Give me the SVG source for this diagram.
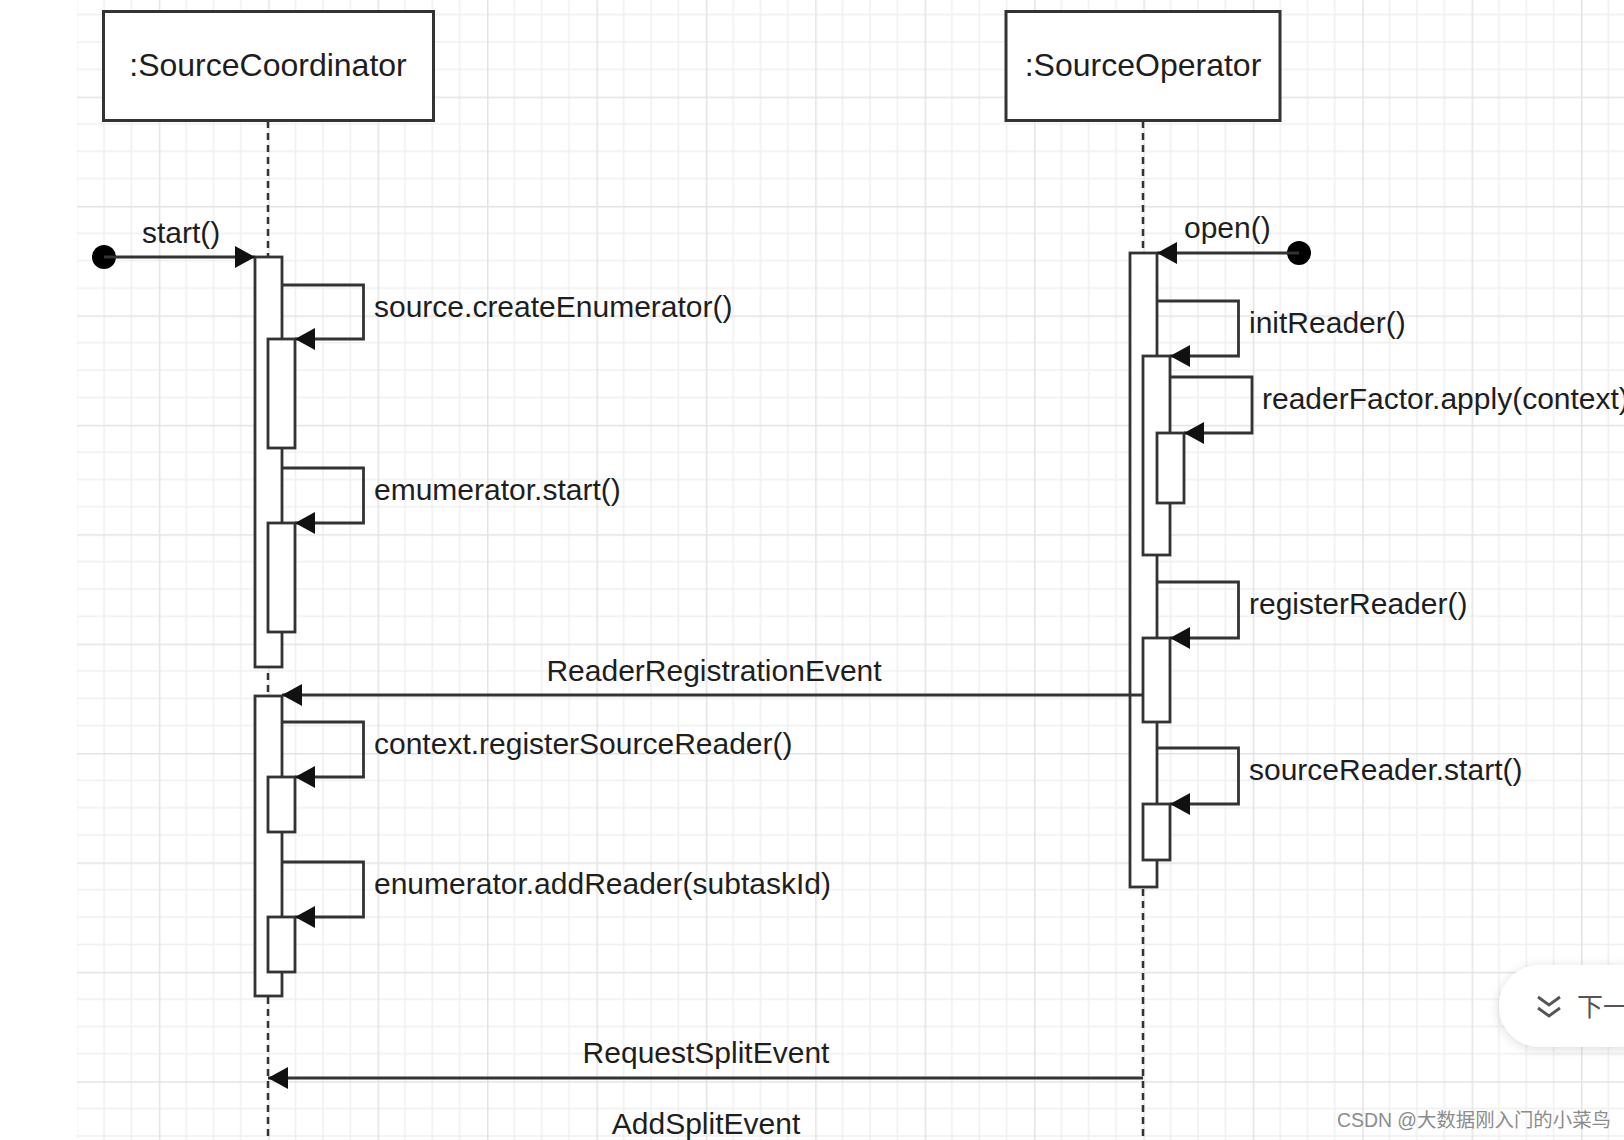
<svg xmlns="http://www.w3.org/2000/svg" width="1624" height="1140" viewBox="0 0 1624 1140">
  <style>
    .box { fill: #ffffff; stroke: #333333; stroke-width: 3; }
    .head { font-family: "Liberation Sans", Arial, sans-serif; font-size: 32px; fill: #1e1e1e; text-anchor: middle; }
    .lbl { font-family: "Liberation Sans", Arial, sans-serif; font-size: 30px; fill: #1e1e1e; }
    .mid { text-anchor: middle; }
    .life { stroke: #333333; stroke-width: 2.5; stroke-dasharray: 7 5; fill: none; }
    .bar { fill: #ffffff; stroke: #333333; stroke-width: 2.8; }
    .msg { fill: none; stroke: #333333; stroke-width: 2.8; marker-end: url(#arrow); }
    .dot { fill: #000000; }
    .wm { font-family: "Liberation Sans", "Noto Sans CJK SC", sans-serif; font-size: 19.4px; fill: #8c8c8c; }
    .pilltxt { font-family: "Noto Sans CJK SC", sans-serif; font-size: 26px; fill: #555555; }
  </style>
  <defs>
    <marker id="arrow" markerUnits="userSpaceOnUse" markerWidth="21" markerHeight="23" refX="20" refY="11" orient="auto">
      <path d="M0,0 L20,11 L0,22 Z" fill="#111111"/>
    </marker>
    <pattern id="grid" patternUnits="userSpaceOnUse" x="49.4" y="-12.8" width="109.4" height="109.4">
      <path d="M27.35,0 V109.4 M54.7,0 V109.4 M82.05,0 V109.4 M0,27.35 H109.4 M0,54.7 H109.4 M0,82.05 H109.4" stroke="#efefef" stroke-width="1.5" fill="none"/>
      <path d="M0.5,0 V109.4 M0,0.5 H109.4" stroke="#e3e3e3" stroke-width="2" fill="none"/>
    </pattern>
    <filter id="shadow" x="-30%" y="-40%" width="160%" height="180%">
      <feDropShadow dx="0" dy="2" stdDeviation="6" flood-color="#000000" flood-opacity="0.14"/>
    </filter>
  </defs>

  <rect x="0" y="0" width="1624" height="1140" fill="#ffffff"/>
  <rect x="77" y="0" width="1547" height="1140" fill="url(#grid)"/>

  <!-- participants -->
  <g id="sourceCoordinator">
    <line class="life" x1="268" y1="121" x2="268" y2="1140"/>
    <rect class="box" x="103.5" y="11.5" width="330" height="109"/>
    <text class="head" x="268" y="76">:SourceCoordinator</text>
  </g>
  <g id="sourceOperator">
    <line class="life" x1="1143" y1="121" x2="1143" y2="1140"/>
    <rect class="box" x="1006" y="11.5" width="274" height="109"/>
    <text class="head" x="1143" y="76">:SourceOperator</text>
  </g>

  <!-- activation bars, SourceCoordinator -->
  <g id="coordinatorActivations">
    <rect class="bar" x="255" y="257" width="27" height="410"/>
    <rect class="bar" x="268" y="339" width="27" height="109"/>
    <rect class="bar" x="268" y="523" width="27" height="109"/>
    <rect class="bar" x="255" y="696" width="27" height="300"/>
    <rect class="bar" x="268" y="777" width="27" height="55"/>
    <rect class="bar" x="268" y="917" width="27" height="55"/>
  </g>

  <!-- activation bars, SourceOperator -->
  <g id="operatorActivations">
    <rect class="bar" x="1130" y="253" width="27" height="634"/>
    <rect class="bar" x="1143" y="356" width="27" height="199"/>
    <rect class="bar" x="1157" y="433" width="27" height="70"/>
    <rect class="bar" x="1143" y="638" width="27" height="84"/>
    <rect class="bar" x="1143" y="804" width="27" height="56"/>
  </g>

  <!-- connectors -->
  <g id="connectors">
    <circle class="dot" cx="104" cy="257" r="12"/>
    <line class="msg" x1="104" y1="257" x2="255" y2="257"/>
    <text class="lbl" x="142" y="243">start()</text>

    <path class="msg" d="M282,285 H363.5 V339 H295"/>
    <text class="lbl" x="374" y="317">source.createEnumerator()</text>

    <path class="msg" d="M282,468 H363.5 V523 H295"/>
    <text class="lbl" x="374" y="500">emumerator.start()</text>

    <circle class="dot" cx="1299" cy="253" r="12"/>
    <line class="msg" x1="1299" y1="253" x2="1157" y2="253"/>
    <text class="lbl" x="1184" y="238">open()</text>

    <path class="msg" d="M1157,301 H1238.5 V356 H1170"/>
    <text class="lbl" x="1249" y="333">initReader()</text>

    <path class="msg" d="M1170,377 H1252 V433 H1184"/>
    <text class="lbl" x="1262" y="409">readerFactor.apply(context)</text>

    <path class="msg" d="M1157,582 H1238.5 V638 H1170"/>
    <text class="lbl" x="1249" y="614">registerReader()</text>

    <path class="msg" d="M1157,748 H1238.5 V804 H1170"/>
    <text class="lbl" x="1249" y="780">sourceReader.start()</text>

    <line class="msg" x1="1143" y1="695" x2="282" y2="695"/>
    <text class="lbl mid" x="714" y="681">ReaderRegistrationEvent</text>

    <path class="msg" d="M282,722 H363.5 V777 H295"/>
    <text class="lbl" x="374" y="754">context.registerSourceReader()</text>

    <path class="msg" d="M282,862 H363.5 V917 H295"/>
    <text class="lbl" x="374" y="894">enumerator.addReader(subtaskId)</text>

    <line class="msg" x1="1143" y1="1078" x2="268" y2="1078"/>
    <text class="lbl mid" x="706" y="1063">RequestSplitEvent</text>

    <line class="msg" x1="268" y1="1151" x2="1143" y2="1151"/>
    <text class="lbl mid" x="706" y="1134">AddSplitEvent</text>
  </g>

  <!-- page overlay -->
  <g id="nextButton">
    <rect x="1499" y="965" width="200" height="82" rx="41" ry="41" fill="#ffffff" filter="url(#shadow)"/>
    <polyline points="1538,997 1549,1005 1560,997" fill="none" stroke="#555555" stroke-width="2.8"/>
    <polyline points="1538,1008 1549,1016 1560,1008" fill="none" stroke="#555555" stroke-width="2.8"/>
    <text class="pilltxt" x="1577" y="1016">下一</text>
  </g>
  <text class="wm" x="1337" y="1127">CSDN @大数据刚入门的小菜鸟</text>
</svg>
